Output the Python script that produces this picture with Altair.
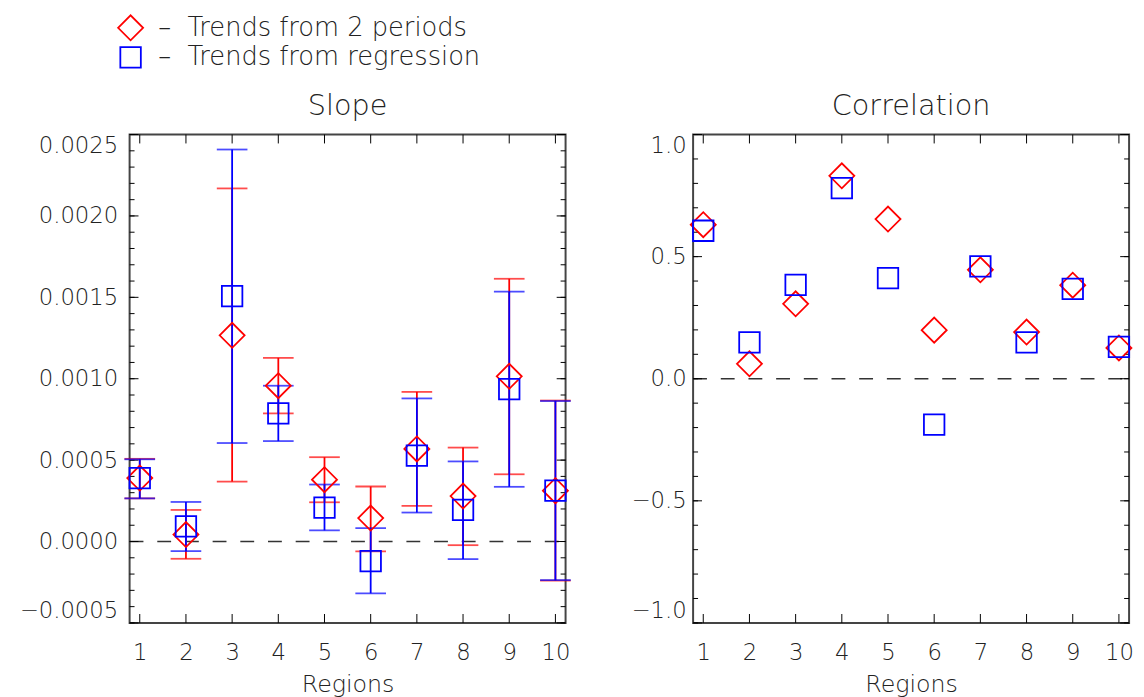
import altair as alt
import pandas as pd

# ---------------- data ----------------
regions = [1, 2, 3, 4, 5, 6, 7, 8, 9, 10]
series_names = ["\u2013\u00a0\u00a0Trends from 2 periods", "\u2013\u00a0\u00a0Trends from regression"]
series_colors = ["#ff0000", "#0000ff"]
series_shapes = ["diamond", "square"]
series_sizes = [640, 430]

# Slope panel: trends from 2 periods (red diamonds) with error bars
slope_p2 = [0.000390, 0.0000425, 0.001267, 0.000957, 0.000380, 0.000144, 0.000569, 0.000279, 0.001015, 0.000312]
slope_p2_lo = [0.000265, -0.000106, 0.000368, 0.000787, 0.000241, -0.0000608, 0.000219, -0.0000225, 0.000413, -0.000240]
slope_p2_hi = [0.000508, 0.000194, 0.002169, 0.001128, 0.000518, 0.000338, 0.000919, 0.000577, 0.001614, 0.000866]

# Slope panel: trends from regression (blue squares) with error bars
slope_reg = [0.000390, 0.000093, 0.001507, 0.000787, 0.000208, -0.000120, 0.000528, 0.000194, 0.000936, 0.000312]
slope_reg_lo = [0.000265, -0.000059, 0.000605, 0.000617, 0.0000686, -0.000318, 0.000178, -0.000108, 0.000336, -0.000237]
slope_reg_hi = [0.000505, 0.000243, 0.002408, 0.000957, 0.000350, 0.0000827, 0.000879, 0.000492, 0.001535, 0.000863]

# Correlation panel
corr_p2 = [0.631, 0.061, 0.307, 0.831, 0.654, 0.199, 0.446, 0.191, 0.383, 0.126]
corr_reg = [0.606, 0.149, 0.384, 0.781, 0.412, -0.188, 0.460, 0.149, 0.368, 0.130]

# axis tick values
slope_major = [-0.0005, 0.0, 0.0005, 0.0010, 0.0015, 0.0020, 0.0025]
slope_minor = [round(-0.0005 + 0.0001 * i, 4) for i in range(31)]
corr_major = [-1.0, -0.5, 0.0, 0.5, 1.0]
corr_minor = [round(-1.0 + 0.1 * i, 1) for i in range(21)]

# ---------------- tables ----------------
slope_df = pd.DataFrame({
    "region": regions * 2,
    "series": [series_names[0]] * 10 + [series_names[1]] * 10,
    "sid": [0] * 10 + [1] * 10,
    "value": slope_p2 + slope_reg,
    "lo": slope_p2_lo + slope_reg_lo,
    "hi": slope_p2_hi + slope_reg_hi,
})
corr_df = pd.DataFrame({
    "region": regions * 2,
    "series": [series_names[0]] * 10 + [series_names[1]] * 10,
    "sid": [0] * 10 + [1] * 10,
    "value": corr_p2 + corr_reg,
})

FONT = "DejaVu Sans"
TXT = "#222222"
W, H = 441, 494
MAJ, MIN = 9, 5


def panel(df, ydomain, major, minor, fmt, title, errors, legend, lab_pad):
    xs = alt.Scale(domain=[0.78, 10.22], nice=False, zero=False)
    ys = alt.Scale(domain=ydomain, nice=False, zero=False)
    cs = alt.Scale(domain=series_names, range=series_colors)
    ss = alt.Scale(domain=series_names, range=series_shapes)
    zs = alt.Scale(type="point", domain=series_names, range=series_sizes, padding=0)

    x_axis = alt.Axis(values=regions, format="d", title="Regions", ticks=False, tickSize=0,
                      domain=False, grid=False, labelPadding=19, titlePadding=8.5,
                      labelFlush=False, labelFontSize=23, titleFontSize=24)
    y_axis = alt.Axis(values=major, format=fmt, title=None, ticks=False, tickSize=0,
                      domain=False, grid=False, labelPadding=lab_pad, labelFlush=True,
                      labelFontSize=23)

    if legend:
        leg = alt.Legend(orient="none", legendX=-13, legendY=-122, title=None,
                         labelFontSize=26, labelFont=FONT, labelColor=TXT, labelFontWeight=200,
                         labelLimit=500, symbolStrokeWidth=1.8, rowPadding=-7, labelOffset=14,
                         padding=0)
    else:
        leg = None

    def X(f):
        return alt.X(f, scale=xs, axis=x_axis)

    def Y(f):
        return alt.Y(f, scale=ys, axis=y_axis)

    layers = []
    zero = alt.Chart(pd.DataFrame({"z": [0.0]})).mark_rule(
        color="#333333", strokeWidth=1.5, strokeDash=[14, 14]
    ).encode(y=Y("z:Q"), x=alt.value(0), x2=alt.value(W))
    layers.append(zero)

    # inward ticks on all four sides
    maj_df = pd.DataFrame({"v": major})
    min_df = pd.DataFrame({"v": minor})
    xt_df = pd.DataFrame({"r": regions})
    for d, ln in ((maj_df, MAJ), (min_df, MIN)):
        layers.append(alt.Chart(d).mark_rule(color="black", strokeWidth=1).encode(
            y=Y("v:Q"), x=alt.value(0), x2=alt.value(ln)))
        layers.append(alt.Chart(d).mark_rule(color="black", strokeWidth=1).encode(
            y=Y("v:Q"), x=alt.value(W - ln), x2=alt.value(W)))
    layers.append(alt.Chart(xt_df).mark_rule(color="black", strokeWidth=1).encode(
        x=X("r:Q"), y=alt.value(H - MAJ), y2=alt.value(H)))
    layers.append(alt.Chart(xt_df).mark_rule(color="black", strokeWidth=1).encode(
        x=X("r:Q"), y=alt.value(0), y2=alt.value(MAJ)))

    base = alt.Chart(df)
    if errors:
        for sid in (0, 1):
            sub = base.transform_filter(alt.datum.sid == sid)
            col = series_colors[sid]
            layers.append(sub.mark_rule(strokeWidth=1.8, color=col).encode(
                x=X("region:Q"), y=Y("lo:Q"), y2="hi:Q"))
            for f in ("lo", "hi"):
                layers.append(sub.mark_tick(orient="horizontal", size=31, thickness=1.8, color=col).encode(
                    x=X("region:Q"), y=Y(f + ":Q")))

    pts = base.mark_point(filled=False, strokeWidth=1.8, opacity=1).encode(
        x=X("region:Q"),
        y=Y("value:Q"),
        color=alt.Color("series:N", scale=cs, legend=leg),
        shape=alt.Shape("series:N", scale=ss, legend=leg),
        size=alt.Size("series:N", scale=zs, legend=leg),
    )
    layers.append(pts)

    return alt.layer(*layers).properties(
        width=W, height=H,
        title=alt.Title(title, offset=-10, baseline="alphabetic", fontSize=29,
                        font=FONT, fontWeight=200, color=TXT, anchor="middle"),
    )


left = panel(slope_df, [-0.0005, 0.0025], slope_major, slope_minor, ".4f", "Slope", True, True, 12)
right = panel(corr_df, [-1.0, 1.0], corr_major, corr_minor, ".1f", "Correlation", False, False, 7)

chart = alt.hconcat(left, right, spacing=58).properties(
    padding={"left": 10, "top": 2, "right": 0, "bottom": 0}
).configure_view(
    stroke="#444444", strokeWidth=2
).configure_axis(
    labelFont=FONT, titleFont=FONT, labelColor=TXT, titleColor=TXT,
    labelFontWeight=200, titleFontWeight=200
)

chart.save("out.html", embed_options={"renderer": "svg", "actions": False})
